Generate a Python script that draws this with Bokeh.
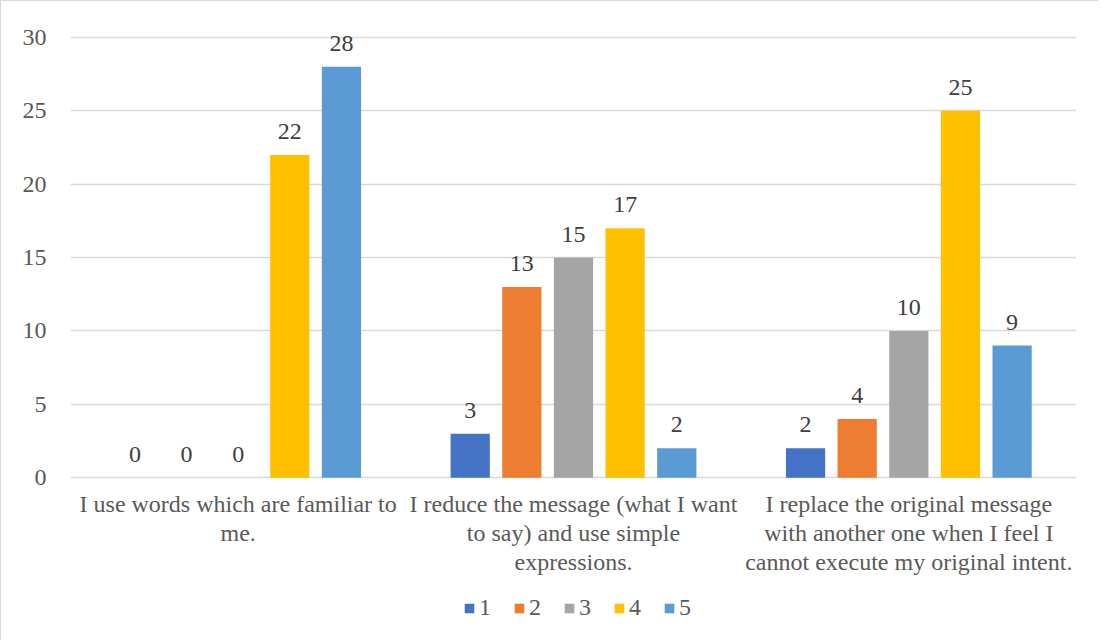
from bokeh.plotting import figure
from bokeh.models import FactorRange, ColumnDataSource, Legend, LegendItem, FixedTicker, Range1d
from bokeh.transform import dodge
from bokeh.core.properties import value
from bokeh.embed import file_html
from bokeh.resources import INLINE

categories = [
    "I use words which are familiar to\nme.",
    "I reduce the message (what I want\nto say) and use simple\nexpressions.",
    "I replace the original message\nwith another one when I feel I\ncannot execute my original intent.",
]
series_names = ["1", "2", "3", "4", "5"]
s1 = [0, 3, 2]
s2 = [0, 13, 4]
s3 = [0, 15, 10]
s4 = [22, 17, 25]
s5 = [28, 2, 9]
series_values = [s1, s2, s3, s4, s5]
colors = ["#4472C4", "#ED7D31", "#A5A5A5", "#FFC000", "#5B9BD5"]
y_ticks = [0, 5, 10, 15, 20, 25, 30]

FONT = "Liberation Serif"
TXT = "#595959"
FS = "24px"

data = {"cat": categories, "base": [0] * len(categories)}
for name, vals in zip(series_names, series_values):
    data["s" + name] = vals
    data["l" + name] = [str(v) for v in vals]
source = ColumnDataSource(data)

p = figure(
    x_range=FactorRange(factors=categories, range_padding=0),
    y_range=Range1d(-11.1, 31.5),
    frame_width=1006, frame_height=625,
    output_backend="svg", toolbar_location=None,
    min_border_left=69, min_border_right=22, min_border_top=14, min_border_bottom=0,
)
p.styles = {"border-top": "1px solid #D9D9D9", "border-left": "1px solid #D9D9D9"}
p.outline_line_color = None

offsets = [-0.308, -0.154, 0.0, 0.154, 0.308]
items = []
for name, off, col in zip(series_names, offsets, colors):
    r = p.vbar(x=dodge("cat", off, range=p.x_range), top="s" + name, width=0.117,
               source=source, fill_color=col, line_color=None)
    p.text(x=dodge("cat", off, range=p.x_range), y="s" + name, text="l" + name, source=source,
           text_align="center", text_baseline="bottom", y_offset=-16,
           text_font=value(FONT), text_font_size=FS, text_color="#404040")
    items.append(LegendItem(label=name, renderers=[r]))

# category labels below the zero line
p.text(x="cat", y="base", text="cat", source=source,
       text_align="center", text_baseline="top", y_offset=13,
       text_font=value(FONT), text_font_size=FS, text_color=TXT, text_line_height=1.12)

legend = Legend(items=items, orientation="horizontal", location=(393, 19),
                label_text_font=FONT, label_text_font_size=FS, label_text_color=TXT,
                glyph_width=12, glyph_height=12, label_standoff=4, spacing=14,
                border_line_color=None, background_fill_alpha=0, padding=0, margin=0)
p.add_layout(legend, "center")

p.yaxis.ticker = FixedTicker(ticks=y_ticks)
p.yaxis.axis_line_color = None
p.yaxis.major_tick_line_color = None
p.yaxis.minor_tick_line_color = None
p.yaxis.major_label_text_font = FONT
p.yaxis.major_label_text_font_size = FS
p.yaxis.major_label_text_color = TXT
p.yaxis.major_label_standoff = 18

p.xaxis.visible = False

p.xgrid.grid_line_color = None
p.ygrid.grid_line_color = "#D9D9D9"
p.ygrid.grid_line_width = 1.5

open("out.html", "w").write(file_html(p, INLINE))
